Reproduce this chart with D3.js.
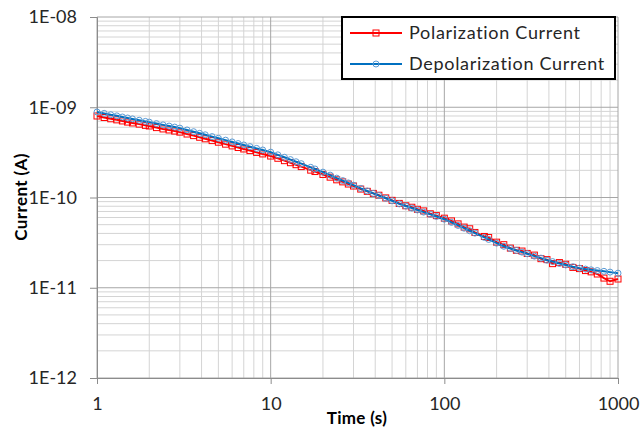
<!DOCTYPE html>
<html><head><meta charset="utf-8">
<script src="https://cdn.jsdelivr.net/npm/d3@7/dist/d3.min.js"></script>
<style>html,body{margin:0;padding:0;background:#fff;}svg{display:block;}</style>
</head><body><svg id="c" width="640" height="432"></svg>
<script>
const times = [1,1.1,1.2,1.3,1.4,1.5,1.6,1.75,1.9,2,2.2,2.4,2.6,2.8,3,3.3,3.6,3.9,4.2,4.6,5,5.5,6,6.5,7,7.6,8.3,9,10,11,12,13,14,15,17,18,20,22,24,26,28,30,33,36,39,42,46,50,55,60,65,70,76,83,90,100,110,120,130,140,150,170,180,200,220,240,260,280,300,330,360,390,420,460,500,550,600,650,700,760,830,900,1000];
const depolarization = [8.85e-10,8.55e-10,8.26e-10,8.03e-10,7.80e-10,7.60e-10,7.43e-10,7.18e-10,6.97e-10,6.84e-10,6.59e-10,6.38e-10,6.19e-10,6.03e-10,5.87e-10,5.60e-10,5.36e-10,5.14e-10,4.95e-10,4.73e-10,4.53e-10,4.32e-10,4.13e-10,3.96e-10,3.82e-10,3.66e-10,3.50e-10,3.36e-10,3.18e-10,2.97e-10,2.79e-10,2.63e-10,2.49e-10,2.37e-10,2.16e-10,2.07e-10,1.91e-10,1.77e-10,1.64e-10,1.54e-10,1.45e-10,1.37e-10,1.26e-10,1.18e-10,1.11e-10,1.05e-10,9.8e-11,9.2e-11,8.5e-11,8.05e-11,7.64e-11,7.28e-11,6.89e-11,6.50e-11,6.17e-11,5.75e-11,5.30e-11,4.90e-11,4.57e-11,4.28e-11,4.03e-11,3.61e-11,3.43e-11,3.12e-11,2.88e-11,2.72e-11,2.59e-11,2.48e-11,2.38e-11,2.24e-11,2.13e-11,2.02e-11,1.95e-11,1.86e-11,1.79e-11,1.71e-11,1.65e-11,1.61e-11,1.58e-11,1.55e-11,1.52e-11,1.49e-11,1.45e-11];
const polarization = [8.0e-10,7.7e-10,7.45e-10,7.25e-10,7.05e-10,6.85e-10,6.7e-10,6.5e-10,6.3e-10,6.2e-10,5.95e-10,5.75e-10,5.6e-10,5.45e-10,5.3e-10,5.05e-10,4.85e-10,4.65e-10,4.47e-10,4.27e-10,4.1e-10,3.9e-10,3.73e-10,3.58e-10,3.45e-10,3.31e-10,3.16e-10,3.04e-10,2.88e-10,2.72e-10,2.56e-10,2.43e-10,2.31e-10,2.2e-10,2.01e-10,1.94e-10,1.8e-10,1.68e-10,1.57e-10,1.49e-10,1.41e-10,1.34e-10,1.24e-10,1.17e-10,1.11e-10,1.06e-10,9.9e-11,9.3e-11,8.6e-11,8.1e-11,7.8e-11,7.4e-11,7.1e-11,6.6e-11,6.3e-11,5.9e-11,5.5e-11,5.1e-11,4.7e-11,4.5e-11,4.1e-11,3.7e-11,3.6e-11,3.2e-11,3.0e-11,2.75e-11,2.6e-11,2.55e-11,2.4e-11,2.3e-11,2.1e-11,2.05e-11,1.85e-11,1.9e-11,1.82e-11,1.68e-11,1.63e-11,1.55e-11,1.5e-11,1.42e-11,1.28e-11,1.18e-11,1.25e-11];
const xTickValues = [1,10,100,1000];
const xTickLabels = ["1","10","100","1000"];
const yTickValues = [1e-12,1e-11,1e-10,1e-9,1e-8];
const yTickLabels = ["1E-12","1E-11","1E-10","1E-09","1E-08"];
const seriesNames = ["Polarization Current","Depolarization Current"];

(function(){
const svg = d3.select("#c");
const font = "Lato, 'Open Sans', sans-serif";
const pL = 97, pR = 618, pT = 17, pB = 378;
const x = d3.scaleLog().domain([1,1000]).range([pL,pR]);
const y = d3.scaleLog().domain([1e-12,1e-8]).range([pB,pT]);

const minorX = [], minorY = [];
for (let d=1; d<1000; d*=10) for (let k=2;k<=9;k++) minorX.push(d*k);
for (let e=-12; e<-8; e++) for (let k=2;k<=9;k++) minorY.push(k*Math.pow(10,e));
const g = svg.append("g");
g.selectAll(".mx").data(minorX).enter().append("line")
 .attr("x1",d=>x(d)).attr("x2",d=>x(d)).attr("y1",pT).attr("y2",pB)
 .attr("stroke","#d4d4d4").attr("stroke-width",1);
g.selectAll(".my").data(minorY).enter().append("line")
 .attr("y1",d=>y(d)).attr("y2",d=>y(d)).attr("x1",pL).attr("x2",pR)
 .attr("stroke","#d4d4d4").attr("stroke-width",1);
g.selectAll(".Mx").data(xTickValues).enter().append("line")
 .attr("x1",d=>x(d)).attr("x2",d=>x(d)).attr("y1",pT).attr("y2",pB)
 .attr("stroke","#a6a6a6").attr("stroke-width",1);
g.selectAll(".My").data(yTickValues).enter().append("line")
 .attr("y1",d=>y(d)).attr("y2",d=>y(d)).attr("x1",pL).attr("x2",pR)
 .attr("stroke","#a6a6a6").attr("stroke-width",1);

const xAxis = d3.axisBottom(x).tickValues(xTickValues).tickFormat((d,i)=>xTickLabels[i]).tickSize(6).tickPadding(13);
const yAxis = d3.axisLeft(y).tickValues(yTickValues).tickFormat((d,i)=>yTickLabels[i]).tickSize(7).tickPadding(13);
const gx = svg.append("g").attr("transform",`translate(0,${pB})`).call(xAxis);
const gy = svg.append("g").attr("transform",`translate(${pL},0)`).call(yAxis);
[gx,gy].forEach(a=>{
  a.selectAll("path").attr("stroke","#8c8c8c");
  a.selectAll("line").attr("stroke","#8c8c8c");
  a.selectAll("text").attr("font-family",font).attr("font-size",18).attr("fill","#262626");
});

const pts = (vals)=>times.map((t,i)=>[t,vals[i]]);
const line = d3.line().x(d=>x(d[0])).y(d=>y(d[1]));
const red = "#ff0000", blue = "#0070c0", lblue = "#5b9bd5";
svg.append("path").datum(pts(polarization)).attr("d",line).attr("fill","none").attr("stroke",red).attr("stroke-width",2);
svg.selectAll(".sq").data(pts(polarization)).enter().append("rect")
 .attr("x",d=>x(d[0])-3).attr("y",d=>y(d[1])-3).attr("width",6).attr("height",6)
 .attr("fill","none").attr("stroke",red).attr("stroke-width",1);
svg.append("path").datum(pts(depolarization)).attr("d",line).attr("fill","none").attr("stroke",blue).attr("stroke-width",2);
svg.selectAll(".ci").data(pts(depolarization)).enter().append("circle")
 .attr("cx",d=>x(d[0])).attr("cy",d=>y(d[1])).attr("r",3)
 .attr("fill","none").attr("stroke",lblue).attr("stroke-width",1);

const lg = svg.append("g");
lg.append("rect").attr("x",342).attr("y",17).attr("width",273).attr("height",62)
 .attr("fill","#fff").attr("stroke","#000").attr("stroke-width",2);
const rows = [{c:red,m:"sq",y:33},{c:blue,m:"ci",y:64}];
rows.forEach((r,i)=>{
  lg.append("line").attr("x1",350).attr("x2",402).attr("y1",r.y).attr("y2",r.y).attr("stroke",r.c).attr("stroke-width",2);
  if (r.m==="sq") lg.append("rect").attr("x",373).attr("y",r.y-3).attr("width",6).attr("height",6).attr("fill","none").attr("stroke",red);
  else lg.append("circle").attr("cx",376).attr("cy",r.y).attr("r",3).attr("fill","none").attr("stroke",lblue);
  lg.append("text").attr("x",409).attr("y",r.y+6).attr("font-family",font).attr("font-size",18)
    .attr("letter-spacing",0.7).attr("fill","#262626").text(seriesNames[i]);
});

svg.append("text").attr("x",357).attr("y",424).attr("text-anchor","middle").attr("font-family",font)
 .attr("font-weight","bold").attr("font-size",17).attr("letter-spacing",0.3).attr("fill","#000").text("Time (s)");
svg.append("text").attr("transform","translate(27,197) rotate(-90)").attr("text-anchor","middle").attr("font-family",font)
 .attr("font-weight","bold").attr("font-size",17).attr("letter-spacing",0.4).attr("fill","#000").text("Current (A)");
})();
</script></body></html>
